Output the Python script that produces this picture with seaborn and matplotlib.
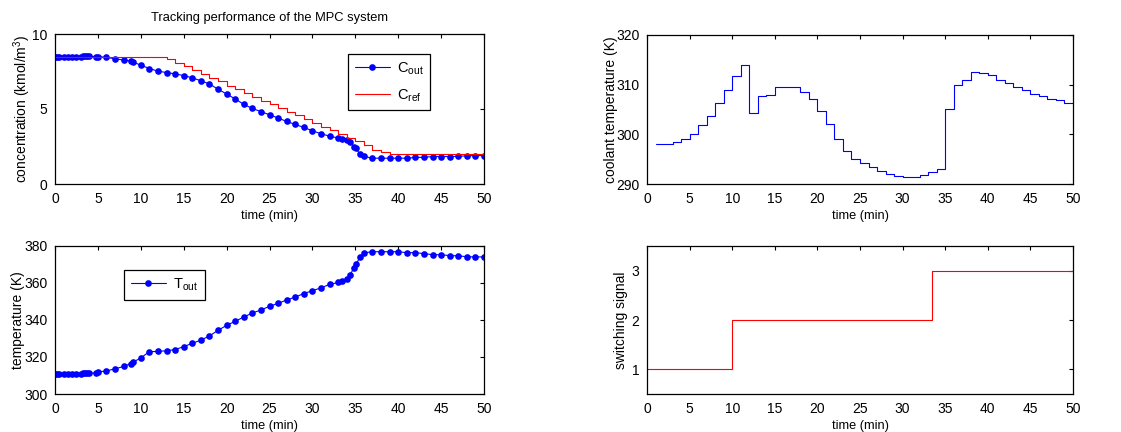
import matplotlib
matplotlib.use("Agg")
import matplotlib.pyplot as plt
import seaborn as sns

# simulation time stamps (variable step) and measured outputs
t_sim = [0, 0.25, 0.5, 1, 1.5, 2, 2.5, 3, 3.25, 3.5, 3.75, 4, 4.75, 5,
         6, 7, 8, 8.8, 9.1, 10, 11, 12, 13, 14, 15, 16, 17, 18, 19, 20,
         21, 22, 23, 24, 25, 26, 27, 28, 29, 30, 31, 32, 33, 33.5, 34,
         34.4, 34.8, 35.1, 35.5, 36, 37, 38, 39, 40, 41, 42, 43, 44, 45,
         46, 47, 48, 49, 50]
c_out = [8.50, 8.50, 8.50, 8.50, 8.50, 8.50, 8.50, 8.50, 8.51, 8.51, 8.51,
         8.51, 8.50, 8.50, 8.44, 8.35, 8.26, 8.20, 8.13, 7.92, 7.70, 7.52,
         7.43, 7.34, 7.23, 7.08, 6.88, 6.67, 6.32, 6.00, 5.67, 5.31, 5.04,
         4.82, 4.62, 4.40, 4.17, 3.97, 3.77, 3.55, 3.35, 3.19, 3.07, 3.02,
         2.91, 2.80, 2.50, 2.38, 2.00, 1.84, 1.72, 1.72, 1.72, 1.72, 1.72,
         1.77, 1.78, 1.83, 1.83, 1.83, 1.84, 1.88, 1.89, 1.89]
t_out = [310.8, 310.8, 310.8, 310.8, 310.8, 310.8, 310.8, 310.9, 311.1,
         311.2, 311.2, 311.2, 311.4, 311.9, 312.5, 313.6, 314.9, 316.4,
         317.2, 319.5, 322.9, 323.0, 323.4, 324.0, 325.6, 327.4, 329.1,
         331.4, 334.4, 337.1, 339.3, 341.6, 343.8, 345.4, 347.4, 349.0,
         350.8, 352.4, 354.3, 355.8, 357.4, 359.2, 360.3, 361.3, 362.0,
         364.3, 368.0, 370.0, 373.8, 376.3, 376.9, 376.9, 376.9, 376.9,
         376.4, 376.4, 375.9, 375.3, 375.3, 374.8, 374.7, 374.2, 374.1,
         374.1]

# reference trajectory (held per minute)
t_ref = list(range(0, 51))
c_ref = [8.5, 8.5, 8.5, 8.5, 8.5, 8.5, 8.5, 8.5, 8.5, 8.5, 8.5, 8.5, 8.5,
         8.33, 8.10, 7.86, 7.59, 7.34, 7.10, 6.85, 6.56, 6.32, 6.05, 5.83,
         5.56, 5.33, 5.09, 4.82, 4.58, 4.31, 4.08, 3.82, 3.57, 3.35, 3.10,
         2.86, 2.57, 2.30, 2.12, 2.0, 2.0, 2.0, 2.0, 2.0, 2.0, 2.0, 2.0,
         2.0, 2.0, 2.0, 2.0]

# control input (coolant temperature)
t_coolant = list(range(1, 51))
coolant = [298.0, 298.0, 298.4, 299.0, 300.1, 301.8, 303.7, 306.3, 308.9,
           311.7, 314.0, 304.3, 307.8, 308.0, 309.5, 309.5, 309.5, 308.6,
           307.2, 304.7, 302.0, 299.0, 296.6, 295.1, 294.3, 293.4, 292.6,
           292.0, 291.7, 291.5, 291.5, 291.8, 292.4, 293.0, 305.2, 309.9,
           311.0, 312.6, 312.3, 311.9, 311.0, 310.3, 309.5, 308.9, 308.2,
           307.8, 307.2, 307.0, 306.4, 306.4]

# active model index
t_switch = [0, 10, 33.5, 50]
switch = [1, 2, 3, 3]

sns.set_theme(style="white")
plt.rcParams["font.family"] = ["Liberation Sans", "DejaVu Sans"]
plt.rcParams["mathtext.fontset"] = "custom"
plt.rcParams["mathtext.rm"] = "Liberation Sans"
plt.rcParams["mathtext.it"] = "Liberation Sans"
plt.rcParams.update({
    "axes.edgecolor": "black",
    "axes.linewidth": 0.9,
    "axes.labelsize": 9.2,
    "axes.labelcolor": "black",
    "xtick.direction": "in",
    "ytick.direction": "in",
    "xtick.top": True,
    "ytick.right": True,
    "xtick.major.size": 3,
    "ytick.major.size": 3,
    "xtick.major.width": 0.8,
    "ytick.major.width": 0.8,
    "xtick.major.pad": 5.5,
    "ytick.major.pad": 5.5,
    "xtick.color": "black",
    "ytick.color": "black",
    "text.color": "black",
    "font.size": 9.2,
})

W, H = 1121, 432
fig = plt.figure(figsize=(W / 100, H / 100), dpi=100)


def add_axes(x0, y0, x1, y1):
    return fig.add_axes([x0 / W, 1 - y1 / H, (x1 - x0) / W, (y1 - y0) / H])


ax_c = add_axes(55, 34, 484, 184)
ax_q = add_axes(647, 35, 1073, 184)
ax_t = add_axes(55, 246, 484, 394)
ax_s = add_axes(647, 246, 1073, 394)

blue = "#0000ff"
red = "#ff0000"
dot = dict(marker="o", markersize=4.8, markeredgewidth=0, linewidth=0.8)

# concentration
sns.lineplot(x=t_sim, y=c_out, ax=ax_c, color=blue, sort=False,
             estimator=None, label=r"C$_{\mathrm{out}}$", **dot)
sns.lineplot(x=t_ref, y=c_ref, ax=ax_c, color=red, sort=False,
             estimator=None, drawstyle="steps-post", linewidth=0.8,
             label=r"C$_{\mathrm{ref}}$")
ax_c.set_ylim(0, 10)
ax_c.set_yticks([0, 5, 10])
ax_c.set_ylabel(r"concentration (kmol/m$^{3}$)")
ax_c.set_title("Tracking performance of the MPC system", fontsize=9.3, pad=9)

# coolant temperature
sns.lineplot(x=t_coolant, y=coolant, ax=ax_q, color=blue, sort=False,
             estimator=None, drawstyle="steps-post", linewidth=0.8)
ax_q.set_ylim(290, 320)
ax_q.set_yticks([290, 300, 310, 320])
ax_q.set_ylabel("coolant temperature (K)")

# reactor temperature
sns.lineplot(x=t_sim, y=t_out, ax=ax_t, color=blue, sort=False,
             estimator=None, label=r"T$_{\mathrm{out}}$", **dot)
ax_t.set_ylim(300, 380)
ax_t.set_yticks([300, 320, 340, 360, 380])
ax_t.set_ylabel("temperature (K)")

# switching signal
sns.lineplot(x=t_switch, y=switch, ax=ax_s, color=red, sort=False,
             estimator=None, drawstyle="steps-post", linewidth=0.8)
ax_s.set_ylim(0.5, 3.5)
ax_s.set_yticks([1, 2, 3])
ax_s.set_ylabel("switching signal")

# y-label centres, as in the reference layout
label_x = {ax_c: -0.077, ax_t: -0.086, ax_q: -0.0845, ax_s: -0.061}

for ax in (ax_c, ax_q, ax_t, ax_s):
    ax.set_xlim(0, 50)
    ax.set_xticks(range(0, 51, 5))
    ax.set_xlabel("time (min)", labelpad=3)
    ax.tick_params(labelsize=10)
    ax.yaxis.label.set_size(10)
    ax.yaxis.label.set_va("center")
    ax.yaxis.set_label_coords(label_x[ax], 0.5)
    for s in ax.spines.values():
        s.set_visible(True)
        s.set_color("black")

leg_kw = dict(frameon=True, fancybox=False, framealpha=1, edgecolor="black",
              fontsize=10.5, handlelength=2.4, handletextpad=0.5,
              borderpad=0.45, labelspacing=0.7, borderaxespad=0)
leg = ax_c.legend(loc="upper left", bbox_to_anchor=(0.683, 0.867), **leg_kw)
leg.get_frame().set_linewidth(0.9)
leg = ax_t.legend(loc="upper left", bbox_to_anchor=(0.161, 0.838), **leg_kw)
leg.get_frame().set_linewidth(0.9)

fig.savefig("out.png", dpi=100)
